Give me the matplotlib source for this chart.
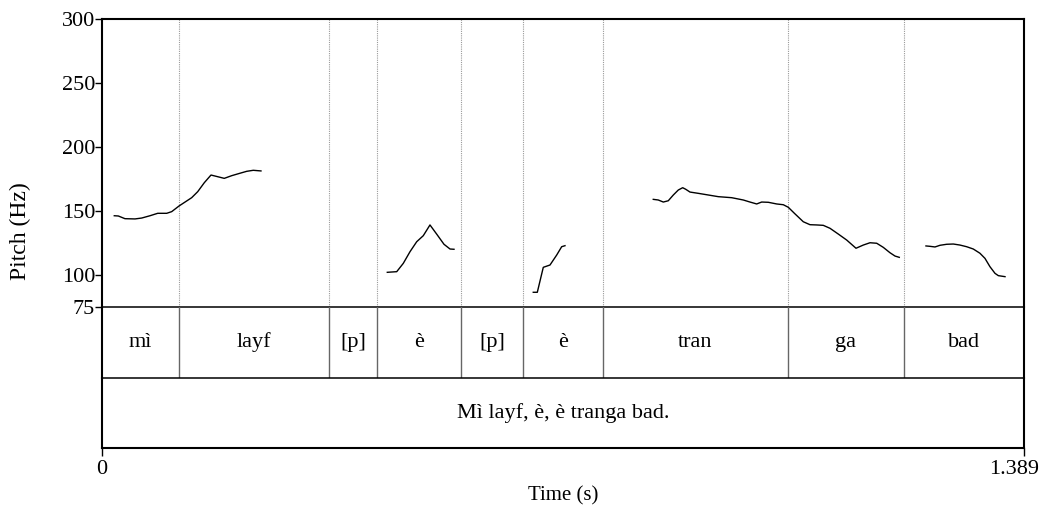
import matplotlib
matplotlib.use("Agg")
import matplotlib.pyplot as plt
import matplotlib.transforms as mtransforms
import numpy as np

plt.rcParams['font.family'] = ['Liberation Serif', 'DejaVu Serif']

# ---- data ----
duration = 1.389
pitch_ticks = [75, 100, 150, 200, 250, 300]

seg1_t = [0.0185, 0.0246, 0.0346, 0.0497, 0.0598, 0.0723, 0.0839, 0.0975, 0.1050, 0.1160,
          0.1351, 0.1442, 0.1541, 0.1642, 0.1743, 0.1842, 0.1954, 0.2079, 0.2180, 0.2279, 0.2395]
seg1_f = [146.3, 146.1, 144.0, 143.8, 144.5, 146.3, 148.2, 148.2, 149.5, 153.9,
          160.4, 165.1, 172.1, 178.1, 176.8, 175.5, 177.6, 179.5, 181.0, 181.8, 181.3]

seg2_t = [0.4298, 0.4440, 0.4539, 0.4640, 0.4741, 0.4840, 0.4941, 0.5051, 0.5152, 0.5243, 0.5303]
seg2_f = [102.1, 102.6, 109.1, 118.2, 126.0, 130.7, 139.1, 131.3, 124.0, 120.3, 120.1]

seg3_t = [0.6497, 0.6558, 0.6648, 0.6749, 0.6850, 0.6925, 0.6975]
seg3_f = [86.5, 86.5, 106.0, 107.8, 115.6, 122.1, 122.9]

seg4_t = [0.8305, 0.8380, 0.8456, 0.8531, 0.8607, 0.8682, 0.8748, 0.8793, 0.8858, 0.8983,
          0.9134, 0.9284, 0.9486, 0.9661, 0.9762, 0.9863, 0.9938, 1.0038, 1.0164, 1.0264,
          1.0339, 1.0435, 1.0565, 1.0666, 1.0767, 1.0866, 1.0967, 1.1092, 1.1219, 1.1359,
          1.1469, 1.1570, 1.1671, 1.1770, 1.1871, 1.1947, 1.2011]
seg4_f = [159.1, 158.6, 157.0, 158.0, 162.5, 166.4, 168.2, 167.0, 164.8, 163.8,
          162.5, 161.2, 160.4, 158.6, 157.0, 155.5, 157.0, 156.8, 155.5, 154.9,
          152.9, 148.0, 141.6, 139.3, 139.1, 138.8, 136.5, 132.0, 127.3, 120.9,
          123.4, 125.2, 124.8, 121.6, 117.4, 114.8, 113.8]

seg5_t = [1.2413, 1.2474, 1.2549, 1.2624, 1.2725, 1.2825, 1.2925, 1.3026, 1.3126, 1.3226,
          1.3302, 1.3377, 1.3453, 1.3503, 1.3604]
seg5_f = [122.7, 122.4, 121.9, 123.2, 124.0, 124.2, 123.4, 122.1, 120.3, 117.0,
          113.0, 106.5, 101.3, 99.5, 98.7]

segments_t = [seg1_t, seg2_t, seg3_t, seg4_t, seg5_t]
segments_f = [seg1_f, seg2_f, seg3_f, seg4_f, seg5_f]

word_bounds = [0.116, 0.342, 0.414, 0.541, 0.634, 0.755, 1.033, 1.208]
word_labels = ["mì", "layf", "[p]", "è", "[p]", "è", "tran", "ga", "bad"]
sentence_label = "Mì layf, è, è tranga bad."

# ---- figure ----
W, H = 1053, 512
fig = plt.figure(figsize=(W / 100, H / 100), dpi=100)

def fx(px):
    return px / W

def fy(py):
    return 1 - py / H

FS = 16
left, right = 102, 1024
ax_p = fig.add_axes([fx(left), fy(307), fx(right - left), (307 - 19) / H])
ax_t1 = fig.add_axes([fx(left), fy(378), fx(right - left), (378 - 307) / H])
ax_t2 = fig.add_axes([fx(left), fy(448), fx(right - left), (448 - 378) / H])

spine_lw = 1.5
for ax in (ax_p, ax_t1, ax_t2):
    ax.set_xlim(0, duration)
    ax.patch.set_visible(False)
    for s in ax.spines.values():
        s.set_linewidth(spine_lw)
        s.set_color('black')

# pitch axes
ax_p.set_ylim(75, 300)
ax_p.set_yticks(pitch_ticks)
ax_p.set_yticklabels([str(v) for v in pitch_ticks], fontsize=FS)
ax_p.tick_params(axis='y', direction='out', length=5, width=1, pad=0)
ax_p.set_xticks([])
ax_p.spines['bottom'].set_linewidth(1.1)
for b in word_bounds:
    ax_p.axvline(b, color='#9a9a9a', lw=0.8, linestyle=(0, (1, 1)))
for t, f in zip(segments_t, segments_f):
    ax_p.plot(t, f, color='black', lw=1.0)

# tier 1
ax_t1.set_ylim(0, 1)
ax_t1.set_xticks([])
ax_t1.set_yticks([])
ax_t1.spines['top'].set_visible(False)
ax_t1.spines['bottom'].set_linewidth(1.1)
edges = [0.0] + word_bounds + [duration]
for b in word_bounds:
    ax_t1.axvline(b, color='#666666', lw=1.0)
for i, lab in enumerate(word_labels):
    ax_t1.text((edges[i] + edges[i + 1]) / 2, 0.5, lab, ha='center', va='center', fontsize=FS)

# tier 2
ax_t2.set_ylim(0, 1)
ax_t2.set_yticks([])
ax_t2.spines['top'].set_visible(False)
ax_t2.text(duration / 2, 0.5, sentence_label, ha='center', va='center', fontsize=FS)
ax_t2.set_xticks([0, duration])
ax_t2.set_xticklabels(["0", "1.389"], fontsize=FS)
ax_t2.tick_params(axis='x', direction='out', length=6, width=1, pad=3)
last = ax_t2.get_xticklabels()[-1]
last.set_transform(last.get_transform() + mtransforms.ScaledTranslation(-10 / 100, 0, fig.dpi_scale_trans))

fig.text(fx(563), fy(496), "Time (s)", ha='center', va='center', fontsize=15)
fig.text(fx(20), fy(231), "Pitch (Hz)", ha='center', va='center', rotation=90, fontsize=17)

fig.savefig("out.png", dpi=100)
